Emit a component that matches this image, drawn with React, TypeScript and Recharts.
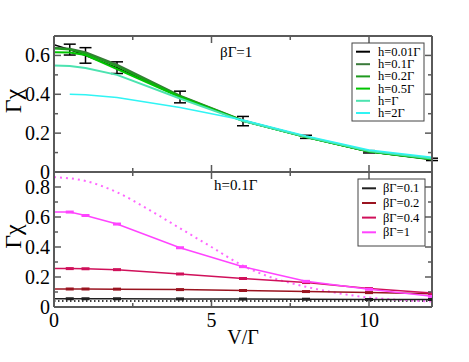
import { LineChart, Line, XAxis, YAxis, ErrorBar } from "recharts"

// V/Γ grid of the QMC points
const vPts = [0, 0.5, 1, 2, 4, 6, 8, 10, 12]

// top panel, βΓ=1, different fields
const h001 = [0.655, 0.63, 0.6, 0.537, 0.386, 0.262, 0.181, 0.104, 0.065]
const h001Err = [0, 0.028, 0.04, 0.03, 0.03, 0.024, 0.008, 0.006, 0.006]
const h01 = [0.64, 0.635, 0.617, 0.552, 0.393, 0.265, 0.18, 0.105, 0.064]
const h02 = [0.636, 0.63, 0.61, 0.545, 0.39, 0.264, 0.18, 0.105, 0.065]
const h05 = [0.617, 0.615, 0.602, 0.53, 0.386, 0.263, 0.18, 0.106, 0.067]
const h1 = [0.548, 0.545, 0.535, 0.5, 0.378, 0.262, 0.181, 0.108, 0.07]
const h2 = [null, 0.4, 0.398, 0.383, 0.332, 0.268, 0.186, 0.113, 0.076]

// bottom panel, h=0.1Γ, different temperatures
const b01 = [0.055, 0.055, 0.055, 0.055, 0.054, 0.053, 0.052, 0.05, 0.05]
const b02 = [0.12, 0.12, 0.12, 0.119, 0.116, 0.11, 0.103, 0.096, 0.089]
const b04 = [0.257, 0.256, 0.255, 0.249, 0.22, 0.19, 0.163, 0.123, 0.093]
const b1 = [0.633, 0.633, 0.61, 0.553, 0.395, 0.269, 0.171, 0.118, 0.071]

// dotted reference curves (not in legend)
const vFine = [0, 1, 2, 3, 4, 5, 6, 7, 8, 9, 10, 11, 12]
const freeB1 = [0.866, 0.84, 0.765, 0.65, 0.525, 0.4, 0.275, 0.19, 0.135, 0.093, 0.063, 0.047, 0.037]
const freeB01 = [0.04, 0.04, 0.04, 0.04, 0.04, 0.04, 0.04, 0.04, 0.04, 0.04, 0.04, 0.04, 0.04]

const xTicks = [0, 2.5, 5, 7.5, 10]
const topYTicks = [0, 0.1, 0.2, 0.3, 0.4, 0.5, 0.6, 0.7]
const botYTicks = [0, 0.1, 0.2, 0.3, 0.4, 0.5, 0.6, 0.7, 0.8, 0.9]

const topLabels = ["h=0.01Γ", "h=0.1Γ", "h=0.2Γ", "h=0.5Γ", "h=Γ", "h=2Γ"]
const topColors = ["#000000", "#3a7a3a", "#1f9a1f", "#00c400", "#4ce3b0", "#30f4f4"]
const botLabels = ["βΓ=0.1", "βΓ=0.2", "βΓ=0.4", "βΓ=1"]
const botColors = ["#202020", "#9a1420", "#d0105a", "#ff44ff"]

const topData = vPts.map((v, i) => ({
  v, h001: h001[i], e: h001Err[i], h01: h01[i], h02: h02[i], h05: h05[i], h1: h1[i], h2: h2[i],
}))
const botData = vPts.map((v, i) => ({ v, b01: b01[i], b02: b02[i], b04: b04[i], b1: b1[i] }))
const fineData = vFine.map((v, i) => ({ v, f1: freeB1[i], f01: freeB01[i] }))

const FONT = "'Liberation Serif', 'DejaVu Serif', serif"
const FRAME = "#5a5a5a"
const L = 54
const R = 432
const W = 469
const axisLine = { stroke: FRAME, strokeWidth: 2 }

const isMajorY = (v: number) => Math.abs(v * 5 - Math.round(v * 5)) < 1e-6
const isMajorX = (v: number) => v % 5 === 0

function leftTick(showTop: boolean) {
  return (p: any) => {
    const v = p.payload.value
    const major = isMajorY(v)
    const label = major && (showTop || v < 0.85)
    return (
      <g>
        <line x1={L} x2={L + (major ? 7 : 4)} y1={p.y} y2={p.y} stroke={FRAME} strokeWidth={1.5} />
        {label && (
          <text x={L - 4} y={p.y} textAnchor="end" dominantBaseline="central" fontSize={20} fontFamily={FONT} fill="#000">
            {String(v)}
          </text>
        )}
      </g>
    )
  }
}

const rightTick = (p: any) => {
  const major = isMajorY(p.payload.value)
  return <line x1={R} x2={R - (major ? 7 : 4)} y1={p.y} y2={p.y} stroke={FRAME} strokeWidth={1.5} />
}

function xTick(yEdge: number, dir: number, labels: boolean) {
  return (p: any) => {
    const v = p.payload.value
    const major = isMajorX(v)
    return (
      <g>
        <line x1={p.x} x2={p.x} y1={yEdge} y2={yEdge + dir * (major ? 7 : 4)} stroke={FRAME} strokeWidth={1.5} />
        {labels && major && (
          <text x={p.x} y={yEdge + 13} textAnchor="middle" dominantBaseline="central" fontSize={20} fontFamily={FONT} fill="#000">
            {String(v)}
          </text>
        )}
      </g>
    )
  }
}

const yLabel = (props: any) => {
  const vb = props.viewBox
  const cy = vb.y + vb.height / 2 - 3
  return (
    <text x={13} y={cy} transform={`rotate(-90 13 ${cy})`} textAnchor="middle" dominantBaseline="central" fontSize={24} fontFamily={FONT} fill="#000">
      Γχ
    </text>
  )
}

const capDot = (color: string) => (p: any) => {
  if (p.payload.v === 0) return <g key={p.index} />
  return <rect key={p.index} x={p.cx - 4} y={p.cy - 1.5} width={8} height={3} fill={color} />
}

// four axes = box frame with inward ticks; 1px thick axes so they get drawn
function Frame({ top, bottom, ticks, domain, xLabels }: any) {
  return [
    <XAxis key="xb" xAxisId="b" dataKey="v" type="number" domain={[0, 12]} ticks={xTicks} interval={0}
      height={1} tickSize={0} tickMargin={0} axisLine={axisLine} tickLine={false} tick={xTick(bottom, -1, xLabels)} allowDataOverflow />,
    <XAxis key="xt" xAxisId="t" orientation="top" dataKey="v" type="number" domain={[0, 12]} ticks={xTicks} interval={0}
      height={1} tickSize={0} tickMargin={0} axisLine={axisLine} tickLine={false} tick={xTick(top, 1, false)} allowDataOverflow />,
    <YAxis key="yl" yAxisId="l" type="number" domain={domain} ticks={ticks} interval={0} width={L}
      tickSize={0} tickMargin={0} axisLine={axisLine} tickLine={false} tick={leftTick(domain[1] < 0.8)} label={yLabel} allowDataOverflow />,
    <YAxis key="yr" yAxisId="r" orientation="right" type="number" domain={domain} ticks={ticks} interval={0} width={1}
      tickSize={0} tickMargin={0} axisLine={axisLine} tickLine={false} tick={rightTick} allowDataOverflow />,
  ]
}

function Legend({ x, y, w, h, rowY, labels, colors, lineX, textX }: any) {
  return (
    <g>
      <rect x={x} y={y} width={w} height={h} fill="#fff" stroke="#444" strokeWidth={1} />
      {labels.map((t: string, i: number) => (
        <g key={t}>
          <line x1={lineX} x2={lineX + 14} y1={rowY[i]} y2={rowY[i]} stroke={colors[i]} strokeWidth={2} />
          <text x={textX} y={rowY[i]} dominantBaseline="central" fontSize={12.5} fontFamily={FONT} fill="#000">{t}</text>
        </g>
      ))}
    </g>
  )
}

export default function App() {
  const topKeys = ["h001", "h01", "h02", "h05", "h1", "h2"]
  const botKeys = ["b01", "b02", "b04", "b1"]
  return (
    <div style={{ position: "absolute", left: 0, top: 0, width: W, height: 362, background: "#fff" }}>
      <div style={{ position: "absolute", left: 0, top: 0 }}>
        <LineChart width={W} height={200} data={topData} margin={{ top: 35, right: W - R - 1, bottom: 27, left: 0 }}>
          {Frame({ top: 36, bottom: 172, ticks: topYTicks, domain: [0, 0.7], xLabels: false })}
          {topKeys.map((k, i) => (
            <Line key={k} xAxisId="b" yAxisId="l" dataKey={k} type="linear" stroke={topColors[i]}
              strokeWidth={i === 0 || i === 5 ? 1.5 : 2} dot={false} isAnimationActive={false}>
              {k === "h001" && <ErrorBar dataKey="e" width={6} stroke="#000" strokeWidth={1.5} direction="y" />}
            </Line>
          ))}
        </LineChart>
      </div>
      <div style={{ position: "absolute", left: 0, top: 162 }}>
        <LineChart width={W} height={200} data={botData} margin={{ top: 9, right: W - R - 1, bottom: 54, left: 0 }}>
          {Frame({ top: 10, bottom: 145, ticks: botYTicks, domain: [0, 0.9], xLabels: true })}
          <Line xAxisId="b" yAxisId="l" data={fineData} dataKey="f01" type="monotone" stroke="#000"
            strokeWidth={1.5} strokeDasharray="1.5 2.5" dot={false} isAnimationActive={false} />
          <Line xAxisId="b" yAxisId="l" data={fineData} dataKey="f1" type="monotone" stroke="#ff66ff"
            strokeWidth={2} strokeDasharray="2 4" dot={false} isAnimationActive={false} />
          {botKeys.map((k, i) => (
            <Line key={k} xAxisId="b" yAxisId="l" dataKey={k} type="linear" stroke={botColors[i]}
              strokeWidth={1.5} dot={capDot(botColors[i])} isAnimationActive={false} />
          ))}
        </LineChart>
      </div>
      <svg width={W} height={362} style={{ position: "absolute", left: 0, top: 0, pointerEvents: "none" }}>
        <text x={220} y={52} dominantBaseline="central" fontSize={15} fontFamily={FONT}>βΓ=1</text>
        <text x={214} y={185} dominantBaseline="central" fontSize={15} fontFamily={FONT}>h=0.1Γ</text>
        <text x={243} y={337} textAnchor="middle" dominantBaseline="central" fontSize={20} fontFamily={FONT}>V/Γ</text>
        <Legend x={352} y={43} w={72} h={78} rowY={[51.7, 64.2, 76.4, 88.6, 100.8, 113]}
          labels={topLabels} colors={topColors} lineX={356} textX={378} />
        <Legend x={358} y={179} w={67} h={67} rowY={[188.3, 203, 217.6, 232.3]}
          labels={botLabels} colors={botColors} lineX={362} textX={383} />
      </svg>
    </div>
  )
}
